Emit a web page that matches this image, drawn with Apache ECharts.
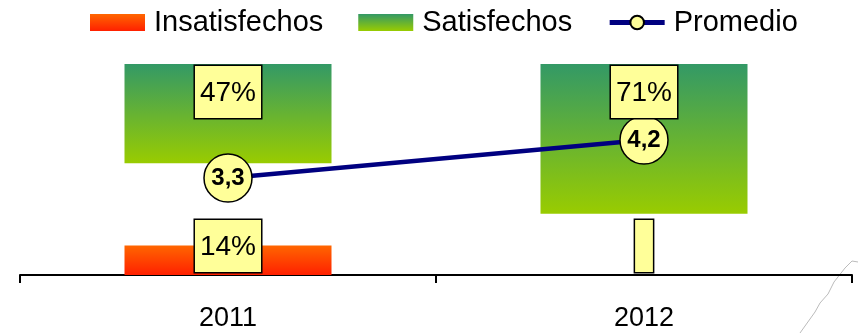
<!DOCTYPE html>
<html><head><meta charset="utf-8">
<script src="https://cdn.jsdelivr.net/npm/echarts@6/dist/echarts.min.js"></script>
<style>html,body{margin:0;padding:0;background:#fff}#c{width:861px;height:333px}</style>
</head><body><div id="c"></div>
<script>
var categories = ['2011', '2012'];
var insatisfechos = [14, 0];
var satisfechos = [47, 71];
var promedio = [3.3, 4.2];

var chart = echarts.init(document.getElementById('c'), null, {renderer: 'canvas'});
var FONT = '"Liberation Sans", Arial, sans-serif';
var redGrad = new echarts.graphic.LinearGradient(0, 0, 0, 1, [{offset: 0, color: '#FF6600'}, {offset: 1, color: '#FF2000'}]);
var greenGrad = new echarts.graphic.LinearGradient(0, 0, 0, 1, [{offset: 0, color: '#339966'}, {offset: 1, color: '#99CC00'}]);
var boxLabel = {
  show: true, color: '#000', fontFamily: FONT, fontSize: 28,
  backgroundColor: '#FFFF99', borderColor: '#000', borderWidth: 1.5,
  padding: [11, 5, 9, 5], lineHeight: 32
};
function pct(p) { return p.value === 0 ? ' ' : p.value + '%'; }

chart.setOption({
  animation: false,
  textStyle: {fontFamily: FONT},
  legend: {
    left: 85, top: 3, itemWidth: 55, itemHeight: 17, itemGap: 35,
    textStyle: {fontSize: 29, color: '#000', fontFamily: FONT, padding: [0, 0, 0, 4]},
    data: [
      {name: 'Insatisfechos', icon: 'rect'},
      {name: 'Satisfechos', icon: 'rect'},
      {name: 'Promedio', lineStyle: {width: 5, color: '#000080'}}
    ]
  },
  grid: {left: 20, right: 9, top: 64, bottom: 58, containLabel: false},
  xAxis: {
    type: 'category', data: categories,
    axisLine: {lineStyle: {color: '#000', width: 2}},
    axisTick: {show: true, length: 8, lineStyle: {color: '#000', width: 2}},
    axisLabel: {color: '#000', fontSize: 27, margin: 30, fontFamily: FONT}
  },
  yAxis: [
    {type: 'value', min: 0, max: 100, show: false},
    {type: 'value', min: 0, max: 100, inverse: true, show: false},
    {type: 'value', min: 1, max: 6, show: false}
  ],
  series: [
    {
      name: 'Insatisfechos', type: 'bar', yAxisIndex: 0, barWidth: 207, barGap: '-100%',
      data: insatisfechos, itemStyle: {color: redGrad},
      label: Object.assign({}, boxLabel, {position: 'insideBottom', distance: 3, formatter: pct}),
      z: 2
    },
    {
      name: 'Satisfechos', type: 'bar', yAxisIndex: 1, barWidth: 207, barGap: '-100%',
      data: satisfechos, itemStyle: {color: greenGrad},
      z: 2
    },
    {
      name: 'Promedio', type: 'line', yAxisIndex: 2, data: promedio,
      lineStyle: {color: '#000080', width: 4.5},
      symbol: 'circle', symbolSize: 48,
      itemStyle: {color: '#FFFF99', borderColor: '#000', borderWidth: 1.5},
      label: {
        show: true, position: 'inside', fontSize: 24, fontWeight: 'bold', color: '#000',
        fontFamily: FONT,
        formatter: function (p) { return String(p.value).replace('.', ','); }
      },
      z: 3
    },
    {
      name: 'SatisfechosLabels', type: 'bar', yAxisIndex: 1, barWidth: 207, barGap: '-100%',
      data: satisfechos, itemStyle: {color: 'rgba(0,0,0,0)'}, silent: true,
      label: Object.assign({}, boxLabel, {position: 'insideTop', distance: 2, formatter: pct}),
      z: 5
    }
  ],
  graphic: [{
    type: 'polyline', silent: true,
    shape: {points: [[800, 333], [815, 312], [820, 303], [828, 294], [834, 282], [845, 268], [852, 261], [858, 262]]},
    style: {stroke: '#bbbbbb', lineWidth: 1, fill: null}
  }]
});
</script></body></html>
